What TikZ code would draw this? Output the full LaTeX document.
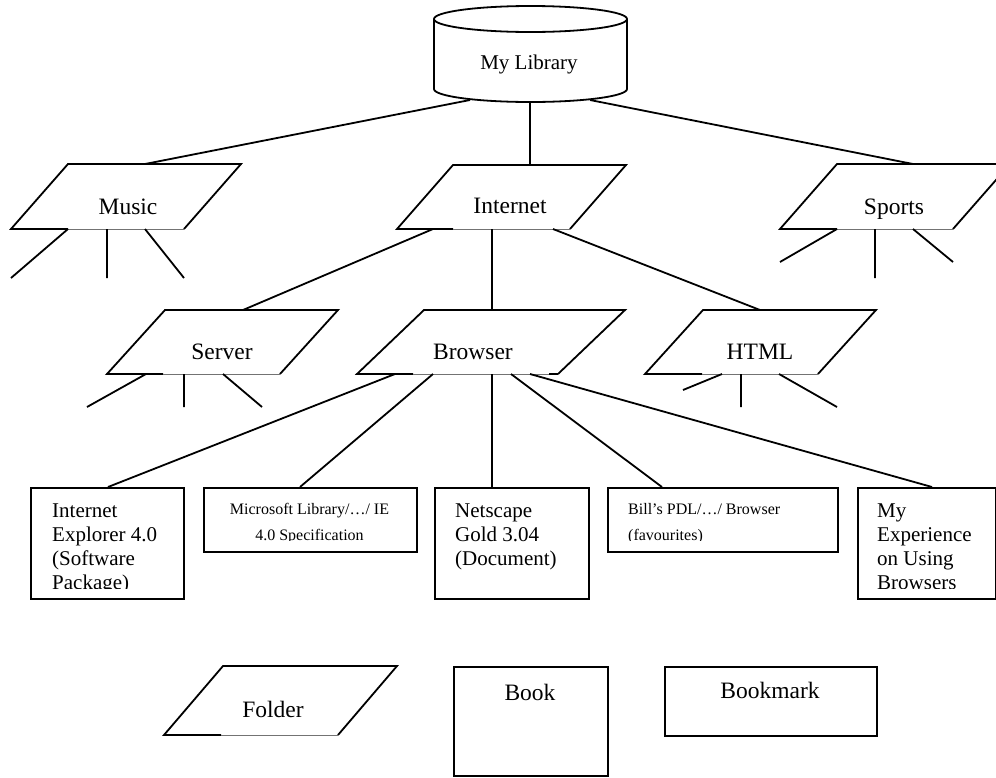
\documentclass[tikz,border=0pt]{standalone}
\usepackage{fontspec}
\setmainfont{Liberation Serif}
% Folder outline: bottom-left x, bottom y, width, slant, height, length of the
% heavy part of the bottom edge (the rest of the bottom edge is a thin grey rule)
\newcommand\folder[6]{%
  \draw[outline] (#1+#6,#2) -- (#1,#2) -- (#1+#4,#2-#5) -- (#1+#3+#4,#2-#5) -- (#1+#3,#2);
  \draw[hairline] (#1+#6,#2) -- (#1+#3,#2);
}
\begin{document}
\begin{tikzpicture}[x=1pt,y=-1pt,
  outline/.style={line width=1.8pt, line join=miter},
  edge/.style={line width=1.8pt},
  hairline/.style={line width=0.8pt, draw=black!55},
  boxnode/.style={draw, line width=1.8pt, inner sep=0pt, anchor=north west},
  biglabel/.style={inner sep=0pt, anchor=base, font=\fontsize{23.5}{28}\selectfont},
  boxtext/.style={inner sep=0pt, anchor=base west, font=\fontsize{21}{24}\selectfont},
  smalltext/.style={inner sep=0pt, anchor=base, font=\fontsize{16}{26}\selectfont},
]
\clip (0,0) rectangle (996,777);
\fill[white] (0,0) rectangle (996,777);

% ---------- library cylinder ----------
\draw[outline] (530.5,19) ellipse[x radius=96.5, y radius=13];
\draw[outline] (434,19) -- (434,89)
  .. controls (434,96.18) and (477.2,102) .. (530.5,102)
  .. controls (583.8,102) and (627,96.18) .. (627,89) -- (627,19);
\node[inner sep=0pt, anchor=base, font=\fontsize{21}{25}\selectfont] (lib) at (529,69) {My Library};
\coordinate (lib-l) at (470,100);
\coordinate (lib-m) at (530,102);
\coordinate (lib-r) at (590,100);

% ---------- first level folders ----------
\folder{11}{229}{173}{57}{65}{57}
\folder{397}{229}{173}{56}{64}{56}
\folder{780}{229}{173}{57}{65}{57}
\node[biglabel] (music) at (128,214) {Music};
\node[biglabel] (internet) at (510,213) {Internet};
\node[biglabel] (sports) at (894,214) {Sports};
\coordinate (music-in) at (145,164);
\coordinate (internet-in) at (530,165);
\coordinate (sports-in) at (913,164);

% ---------- second level folders ----------
\folder{107}{374}{173}{58}{64}{56}
\folder{357}{374}{201}{67}{64}{56}
\draw[outline] (549,374) -- (558,374);
\folder{645}{374}{173}{58}{64}{57}
\node[biglabel] (server) at (222,359) {Server};
\node[biglabel] (browser) at (473,359) {Browser};
\node[biglabel] (html) at (760,359) {HTML};
\coordinate (server-in) at (243,310);
\coordinate (browser-in) at (492,310);
\coordinate (html-in) at (760,310);
\coordinate (internet-o1) at (433,229);
\coordinate (internet-o2) at (492,229);
\coordinate (internet-o3) at (553,229);

% ---------- documents under Browser ----------
\node[boxnode, minimum width=153pt, minimum height=111pt] (ie) at (30,487) {};
\node[boxnode, minimum width=213pt, minimum height=64pt] (ms) at (203,487) {};
\node[boxnode, minimum width=154pt, minimum height=111pt] (ns) at (434,487) {};
\node[boxnode, minimum width=230pt, minimum height=64pt] (bill) at (607,487) {};
\node[boxnode, minimum width=138pt, minimum height=111pt] (myexp) at (857,487) {};

\begin{scope}
  \clip (30,487) rectangle (183,588);
  \node[boxtext] (ie-text) at (52,517)
    {\parbox[t]{130pt}{\raggedright Internet\\ Explorer 4.0\\ (Software\\ Package)}};
\end{scope}
\begin{scope}
  \clip (203,487) rectangle (416,540);
  \node[smalltext] (ms-text) at (309.5,514)
    {\parbox[t]{213pt}{\centering Microsoft Library/…/ IE\\ 4.0 Specification}};
\end{scope}
\node[boxtext] (ns-text) at (455,517)
  {\parbox[t]{130pt}{\raggedright Netscape\\ Gold 3.04\\ (Document)}};
\begin{scope}
  \clip (607,487) rectangle (837,540);
  \node[smalltext, anchor=base west] (bill-text) at (628,514)
    {\parbox[t]{200pt}{\raggedright Bill’s PDL/…/ Browser\\ (favourites)}};
\end{scope}
\begin{scope}
  \clip (857,487) rectangle (995,588);
  \node[boxtext] (myexp-text) at (877,517)
    {\parbox[t]{115pt}{\raggedright My\\ Experience\\ on Using\\ Browsers}};
\end{scope}

\coordinate (browser-o1) at (395,374);
\coordinate (browser-o2) at (433,374);
\coordinate (browser-o3) at (492,374);
\coordinate (browser-o4) at (511,374);
\coordinate (browser-o5) at (530,374);
\coordinate (ie-in) at (108,487);
\coordinate (ms-in) at (300,487);
\coordinate (ns-in) at (492,487);
\coordinate (bill-in) at (662,487);
\coordinate (myexp-in) at (932,487);

% ---------- connectors ----------
\draw[edge] (lib-l) -- (music-in);
\draw[edge] (lib-m) -- (internet-in);
\draw[edge] (lib-r) -- (sports-in);
\draw[edge] (internet-o1) -- (server-in);
\draw[edge] (internet-o2) -- (browser-in);
\draw[edge] (internet-o3) -- (html-in);
\draw[edge] (browser-o1) -- (ie-in);
\draw[edge] (browser-o2) -- (ms-in);
\draw[edge] (browser-o3) -- (ns-in);
\draw[edge] (browser-o4) -- (bill-in);
\draw[edge] (browser-o5) -- (myexp-in);

% ---------- open branches below collapsed folders ----------
\draw[edge] (68,229) -- (11,278) (107,229) -- (107,278) (145,229) -- (184,278);
\draw[edge] (837,229) -- (780,262) (875,229) -- (875,278) (913,229) -- (953,262);
\draw[edge] (146,374) -- (87,407) (184,374) -- (184,407) (223,374) -- (262,407);
\draw[edge] (722,374) -- (683,390) (741,374) -- (741,407) (779,374) -- (837,407);

% ---------- legend ----------
\folder{164}{735}{174}{59}{69}{57}
\node[biglabel] (folder) at (273,717) {Folder};
\node[boxnode, minimum width=154pt, minimum height=109pt] (book) at (453,666) {};
\node[biglabel] (book-label) at (530,700) {Book};
\node[boxnode, minimum width=212pt, minimum height=69pt] (bookmark) at (664,666) {};
\node[biglabel] (bookmark-label) at (770,698) {Bookmark};
\end{tikzpicture}
\end{document}
